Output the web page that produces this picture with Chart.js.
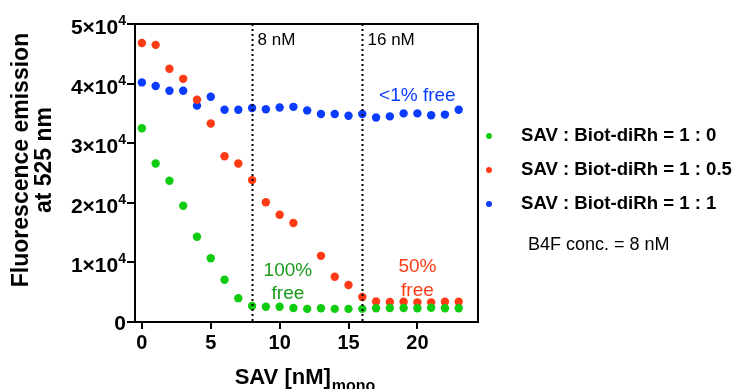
<!DOCTYPE html>
<html>
<head>
<meta charset="utf-8">
<script src="https://cdn.jsdelivr.net/npm/chart.js@4.4.1/dist/chart.umd.min.js"></script>
<style>
  html, body { margin: 0; padding: 0; background: #fff; }
  #wrap { width: 740px; height: 389px; position: relative; }
</style>
</head>
<body>
<div id="wrap"><canvas id="c" width="740" height="389"></canvas></div>
<script>
// SAV concentration (nM, per monomer)
const sav = [0,1,2,3,4,5,6,7,8,9,10,11,12,13,14,15,16,17,18,19,20,21,22,23];

// Fluorescence emission at 525 nm for each SAV : Biot-diRh ratio
const ratio1to0 = [32500,26600,23700,19500,14300,10700,7100,4000,2700,2550,2550,2350,2200,2300,2200,2200,2200,2300,2350,2350,2300,2400,2300,2300];
const ratio1to05 = [46800,46500,42500,40800,37300,33300,27800,26600,23800,20100,18000,16600,null,11100,7600,6200,4200,3450,3350,3400,3300,3300,3400,3400];
const ratio1to1 = [40200,39600,38800,38800,36300,37800,35600,35600,35900,35700,36000,36100,35500,34900,34900,34600,34900,34300,34500,35000,35000,34700,34800,35600];

const seriesLabels = ['SAV : Biot-diRh = 1 : 0', 'SAV : Biot-diRh = 1 : 0.5', 'SAV : Biot-diRh = 1 : 1'];
const seriesColors = ['#10cc10', '#ff3a14', '#0a3cff'];

// y tick values as mantissa × 10^exponent
const yTicks = [0, 10000, 20000, 30000, 40000, 50000];
const yMantissa = ['0', '1', '2', '3', '4', '5'];
const yExponent = 4;
const xTicks = [0, 5, 10, 15, 20];
const markerLines = [8, 16];
const markerLabels = ['8 nM', '16 nM'];

const FONT = '"Liberation Sans", Arial, Helvetica, sans-serif';

function pts(ys) {
  return sav.map((x, i) => ({ x: x, y: ys[i] }));
}

const overlay = {
  id: 'overlay',
  afterDraw(chart) {
    const ctx = chart.ctx;
    const a = chart.chartArea;
    const xs = chart.scales.x, ys = chart.scales.y;
    ctx.save();

    // closing frame: top and right edges
    ctx.strokeStyle = '#000';
    ctx.lineWidth = 2;
    ctx.beginPath();
    ctx.moveTo(a.left, a.top);
    ctx.lineTo(a.right, a.top);
    ctx.lineTo(a.right, a.bottom);
    ctx.stroke();

    // y tick labels with power-of-ten notation
    ctx.fillStyle = '#000';
    ctx.textBaseline = 'alphabetic';
    yTicks.forEach((v, i) => {
      const py = ys.getPixelForValue(v);
      const right = a.left - 9;
      if (v === 0) {
        ctx.font = 'bold 21px ' + FONT;
        ctx.textAlign = 'right';
        ctx.fillText('0', right, py + 8);
        return;
      }
      ctx.font = 'bold 14px ' + FONT;
      const wExp = ctx.measureText(String(yExponent)).width;
      ctx.textAlign = 'right';
      ctx.fillText(String(yExponent), right, py + 1);
      ctx.font = 'bold 21px ' + FONT;
      ctx.fillText(yMantissa[i] + '×10', right - wExp, py + 10);
    });

    // dotted reference lines
    ctx.lineWidth = 2;
    ctx.setLineDash([2, 3]);
    markerLines.forEach((v, i) => {
      const px = Math.round(xs.getPixelForValue(v)) + 0.5;
      ctx.beginPath();
      ctx.moveTo(px, a.top);
      ctx.lineTo(px, a.bottom);
      ctx.stroke();
      ctx.fillStyle = '#000';
      ctx.font = '17px ' + FONT;
      ctx.textAlign = 'left';
      ctx.textBaseline = 'alphabetic';
      ctx.fillText(markerLabels[i], px + 5, a.top + 21);
    });
    ctx.setLineDash([]);

    // annotations
    ctx.font = '19px ' + FONT;
    ctx.textAlign = 'center';
    ctx.textBaseline = 'middle';
    ctx.fillStyle = '#0a3cff';
    ctx.fillText('<1% free', xs.getPixelForValue(20), ys.getPixelForValue(38000));
    ctx.fillStyle = '#1a9a1a';
    ctx.fillText('100%', xs.getPixelForValue(10.6), ys.getPixelForValue(8600));
    ctx.fillText('free', xs.getPixelForValue(10.6), ys.getPixelForValue(4800));
    ctx.fillStyle = '#ff3a14';
    ctx.fillText('50%', xs.getPixelForValue(20), ys.getPixelForValue(9300));
    ctx.fillText('free', xs.getPixelForValue(20), ys.getPixelForValue(5300));

    // legend
    const lx = a.right + 11, tx = a.right + 43;
    chart.data.datasets.forEach((ds, i) => {
      const cy = 136 + i * 34;
      ctx.fillStyle = ds.backgroundColor;
      ctx.beginPath();
      ctx.arc(lx, cy, 3, 0, Math.PI * 2);
      ctx.fill();
      ctx.fillStyle = '#000';
      ctx.font = 'bold 18.6px ' + FONT;
      ctx.textAlign = 'left';
      ctx.textBaseline = 'middle';
      ctx.fillText(ds.label, tx, cy);
    });
    ctx.font = '18px ' + FONT;
    ctx.fillText('B4F conc. = 8 nM', a.right + 50, 245);

    // y axis title (two lines)
    ctx.save();
    ctx.translate(0, 160);
    ctx.rotate(-Math.PI / 2);
    ctx.font = 'bold 23px ' + FONT;
    ctx.textAlign = 'center';
    ctx.textBaseline = 'middle';
    ctx.fillStyle = '#000';
    ctx.fillText('Fluorescence emission', 0, 22);
    ctx.fillText('at 525 nm', 0, 45);
    ctx.restore();

    // x axis title with subscript
    ctx.font = 'bold 22px ' + FONT;
    const main = 'SAV [nM]';
    const wMain = ctx.measureText(main).width;
    ctx.font = 'bold 16px ' + FONT;
    const wSub = ctx.measureText('mono').width;
    const x0 = (a.left + a.right) / 2 - (wMain + wSub) / 2 - 2;
    ctx.textAlign = 'left';
    ctx.textBaseline = 'alphabetic';
    ctx.fillStyle = '#000';
    ctx.font = 'bold 22px ' + FONT;
    ctx.fillText(main, x0, 384);
    ctx.font = 'bold 16px ' + FONT;
    ctx.fillText('mono', x0 + wMain + 1, 391);

    ctx.restore();
  }
};

new Chart(document.getElementById('c'), {
  type: 'scatter',
  data: {
    datasets: [ratio1to0, ratio1to05, ratio1to1].map((ys, i) => ({
      label: seriesLabels[i],
      data: pts(ys),
      backgroundColor: seriesColors[i],
      borderColor: seriesColors[i],
      pointRadius: 4.2,
      pointBorderWidth: 0,
      showLine: false
    }))
  },
  options: {
    responsive: false,
    animation: false,
    devicePixelRatio: 1,
    layout: { padding: { top: 24, right: 262, left: 0, bottom: 0 } },
    plugins: { legend: { display: false }, tooltip: { enabled: false } },
    scales: {
      x: {
        type: 'linear',
        min: -0.5,
        max: 24.4,
        afterFit(s) { s.height = 67; },
        afterBuildTicks(s) { s.ticks = xTicks.map(v => ({ value: v })); },
        border: { display: true, color: '#000', width: 2 },
        grid: { drawOnChartArea: false, drawTicks: true, tickLength: 7, color: '#000', lineWidth: 2 },
        ticks: { color: '#000', font: { family: FONT, size: 20, weight: 'bold' }, padding: 2, maxRotation: 0 }
      },
      y: {
        min: 0,
        max: 50000,
        afterFit(s) { s.width = 135; },
        afterBuildTicks(s) { s.ticks = yTicks.map(v => ({ value: v })); },
        border: { display: true, color: '#000', width: 2 },
        grid: { drawOnChartArea: false, drawTicks: true, tickLength: 8, color: '#000', lineWidth: 2 },
        ticks: { display: false }
      }
    }
  },
  plugins: [overlay]
});
</script>
</body>
</html>
